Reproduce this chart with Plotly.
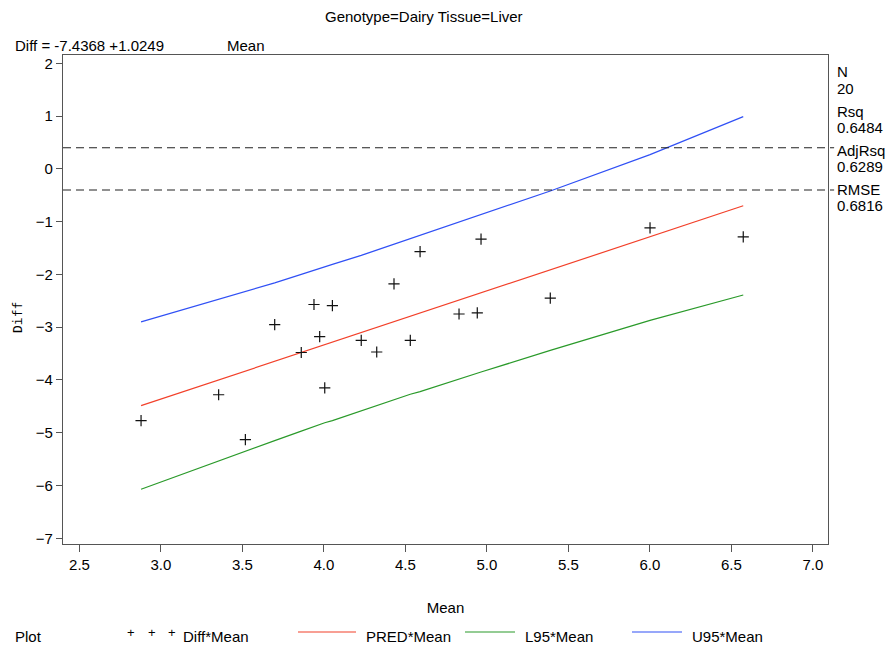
import plotly.graph_objects as go

# ---- data ----
mean_x = [2.878, 3.354, 3.518, 3.698, 3.861, 3.939, 3.974, 4.005, 4.052, 4.229,
          4.324, 4.430, 4.530, 4.590, 4.829, 4.941, 4.964, 5.389, 6.001, 6.573]
diff_y = [-4.77, -4.28, -5.13, -2.95, -3.48, -2.57, -3.18, -4.15, -2.59, -3.25,
          -3.47, -2.18, -3.25, -1.57, -2.75, -2.73, -1.33, -2.45, -1.12, -1.29]
u95 = [-2.90, -2.47, -2.33, -2.16, -2.00, -1.92, -1.89, -1.86, -1.81, -1.64,
       -1.54, -1.43, -1.33, -1.27, -1.02, -0.90, -0.87, -0.42, 0.27, 0.99]
l95 = [-6.07, -5.53, -5.35, -5.15, -4.97, -4.88, -4.85, -4.81, -4.77, -4.58,
       -4.48, -4.37, -4.27, -4.22, -3.98, -3.87, -3.85, -3.44, -2.87, -2.39]
intercept = -7.4368
slope = 1.0249
pred_x = [mean_x[0], mean_x[-1]]
pred_y = [intercept + slope * v for v in pred_x]
ref_lines = [0.4, -0.4]
x_ticks = [2.5, 3.0, 3.5, 4.0, 4.5, 5.0, 5.5, 6.0, 6.5, 7.0]
y_ticks = [2, 1, 0, -1, -2, -3, -4, -5, -6, -7]
stats = ["N", "20", "Rsq", "0.6484", "AdjRsq", "0.6289", "RMSE", "0.6816"]

RED = "#f2402a"
GREEN = "#2a9a2a"
BLUE = "#3050f5"
FONT = "Liberation Sans"

W, H = 893, 646
L, R, T, B = 63, 65, 55, 102
PW, PH = W - L - R, H - T - B


def px(xp):
    return (xp - L) / PW


def py(yp):
    return (H - B - yp) / PH


fig = go.Figure()
fig.add_trace(go.Scatter(x=mean_x, y=u95, mode="lines",
                         line=dict(color=BLUE, width=1.2), showlegend=False))
fig.add_trace(go.Scatter(x=mean_x, y=l95, mode="lines",
                         line=dict(color=GREEN, width=1.2), showlegend=False))
fig.add_trace(go.Scatter(x=pred_x, y=pred_y, mode="lines",
                         line=dict(color=RED, width=1.2), showlegend=False))
fig.add_trace(go.Scatter(x=mean_x, y=diff_y, mode="markers",
                         marker=dict(symbol="cross-thin", size=8,
                                     line=dict(color="#111", width=1.2)),
                         showlegend=False))

shapes = []
for v in ref_lines:
    shapes.append(dict(type="line", xref="paper", yref="y", x0=0, x1=1.008,
                       y0=v, y1=v, line=dict(color="#222", width=1.1, dash="8px,5px")))

ann = []
fs = 15
ann.append(dict(text="Genotype=Dairy Tissue=Liver", x=px(424), y=py(16),
                xref="paper", yref="paper", showarrow=False, xanchor="center",
                yanchor="middle", font=dict(size=fs, family=FONT, color="#000")))
ann.append(dict(text="Diff = -7.4368 +1.0249", x=px(13), y=py(45),
                xref="paper", yref="paper", showarrow=False, xanchor="left",
                yanchor="middle", font=dict(size=fs, family=FONT, color="#000")))
ann.append(dict(text="Mean", x=px(225), y=py(45),
                xref="paper", yref="paper", showarrow=False, xanchor="left",
                yanchor="middle", font=dict(size=fs, family=FONT, color="#000")))
ann.append(dict(text="Diff", x=px(18), y=py(318), textangle=-90,
                xref="paper", yref="paper", showarrow=False, xanchor="center",
                yanchor="middle", font=dict(size=13, family="DejaVu Sans Mono", color="#000")))
stat_y = [72, 88, 111, 127, 150, 166, 189, 205]
for s, yy in zip(stats, stat_y):
    ann.append(dict(text=s, x=px(835), y=py(yy), xref="paper", yref="paper",
                    showarrow=False, xanchor="left", yanchor="middle",
                    font=dict(size=fs, family=FONT, color="#000")))

# legend row
LY = 636
ann.append(dict(text="Plot", x=px(13), y=py(LY), xref="paper", yref="paper",
                showarrow=False, xanchor="left", yanchor="middle",
                font=dict(size=fs, family=FONT, color="#000")))
for xx in [131, 152, 172]:
    ann.append(dict(text="+", x=px(xx), y=py(LY - 4), xref="paper", yref="paper",
                    showarrow=False, xanchor="center", yanchor="middle",
                    font=dict(size=13, family=FONT, color="#000")))
legend_items = [("Diff*Mean", 181, None, None, None),
                ("PRED*Mean", 364, RED, 298, 356),
                ("L95*Mean", 523, GREEN, 465, 515),
                ("U95*Mean", 690, BLUE, 632, 682)]
for name, tx, col, x0, x1 in legend_items:
    ann.append(dict(text=name, x=px(tx), y=py(LY), xref="paper", yref="paper",
                    showarrow=False, xanchor="left", yanchor="middle",
                    font=dict(size=fs, family=FONT, color="#000")))
    if col:
        shapes.append(dict(type="line", xref="paper", yref="paper",
                           x0=px(x0), x1=px(x1), y0=py(LY - 4), y1=py(LY - 4),
                           line=dict(color=col, width=1.2)))

fig.update_layout(
    width=W, height=H, margin=dict(l=L, r=R, t=T, b=B),
    paper_bgcolor="white", plot_bgcolor="white",
    shapes=shapes, annotations=ann, showlegend=False,
    font=dict(family=FONT, size=fs, color="#000"),
    xaxis=dict(range=[2.399, 7.093], tickvals=x_ticks,
               ticktext=[f"{v:.1f}" for v in x_ticks],
               showgrid=False, zeroline=False, showline=True, mirror=True,
               linecolor="#555", linewidth=1.2, ticks="outside", ticklen=7,
               tickcolor="#555", tickfont=dict(size=fs, family=FONT),
               title=dict(text="Mean", font=dict(size=fs, family=FONT), standoff=30)),
    yaxis=dict(range=[-7.108, 2.157], tickvals=y_ticks,
               showgrid=False, zeroline=False, showline=True, mirror=True,
               linecolor="#555", linewidth=1.2, ticks="outside", ticklen=6,
               tickcolor="#555", tickfont=dict(size=fs, family=FONT)),
)

fig.write_html("out.html")
